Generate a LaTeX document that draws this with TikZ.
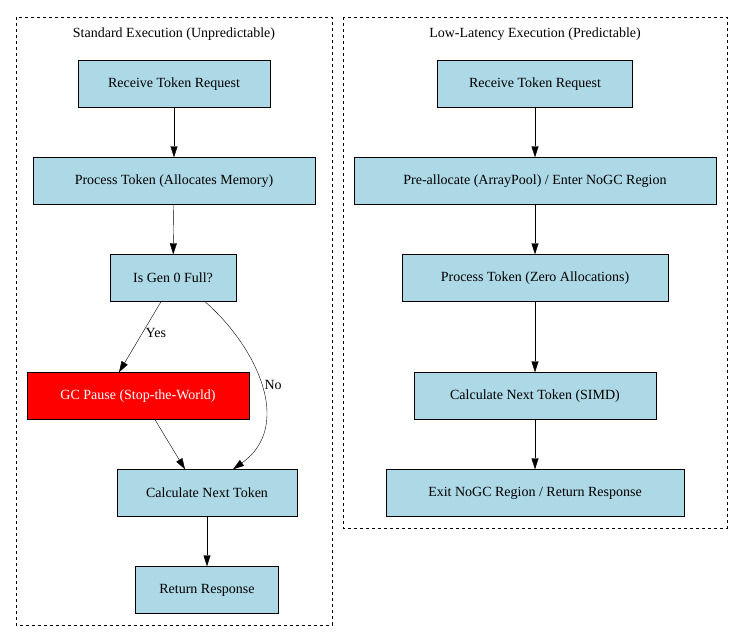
\documentclass[tikz,border=0pt]{standalone}
\usepackage{fontspec}
\setmainfont{Liberation Serif}
\usetikzlibrary{arrows.meta}
\begin{document}
\begin{tikzpicture}[x=1pt,y=-1pt,font=\fontsize{14}{16}\selectfont,
	box/.style={draw, fill=cyan!30!white!80!blue!20, fill=lightblue, minimum height=47pt, inner xsep=8pt},
	cluster/.style={draw, dashed, thick},
	edge/.style={-{Triangle[length=11pt,width=7pt]}}]
		\definecolor{lightblue}{HTML}{ADD8E6}
		\useasboundingbox (0,0) rectangle (743,641);

		\draw[cluster] (16,17) rectangle (332,625);
		\draw[cluster] (343,17) rectangle (727,528);
		\node (titleL) at (174,34) {Standard Execution (Unpredictable)};
		\node (titleR) at (535,34) {Low-Latency Execution (Predictable)};

		\node[box, minimum width=192pt] (L1) at (174,84) {Receive Token Request};
		\node[box, minimum width=282pt] (L2) at (174,181) {Process Token (Allocates Memory)};
		\node[box, minimum width=126pt] (L3) at (173,278) {Is Gen 0 Full?};
		\node[box, minimum width=222pt, fill=red, text=white] (L4) at (138,396) {GC Pause (Stop-the-World)};
		\node[box, minimum width=180pt] (L5) at (207,493) {Calculate Next Token};
		\node[box, minimum width=143pt] (L6) at (207,590) {Return Response};

		\node[box, minimum width=195pt] (R1) at (535,84) {Receive Token Request};
		\node[box, minimum width=362pt] (R2) at (535,181) {Pre-allocate (ArrayPool) / Enter NoGC Region};
		\node[box, minimum width=266pt] (R3) at (535,278) {Process Token (Zero Allocations)};
		\node[box, minimum width=242pt] (R4) at (535,396) {Calculate Next Token (SIMD)};
		\node[box, minimum width=298pt] (R5) at (535,493) {Exit NoGC Region / Return Response};

		\draw[edge] (L1) -- (L2);
		\draw[edge] (L2) -- (L3);
		\draw[edge] ([xshift=-12pt]L3.south) -- ([xshift=-19pt]L4.north) node[right, pos=0.45]{Yes};
		\draw[edge] ([xshift=32pt]L3.south) .. controls (255,345) and (295,425) .. ([xshift=26pt]L5.north) node[pos=0.5, right]{No};
		\draw[edge] ([xshift=17pt]L4.south) -- ([xshift=-22pt]L5.north);
		\draw[edge] (L5) -- (L6);

		\draw[edge] (R1) -- (R2);
		\draw[edge] (R2) -- (R3);
		\draw[edge] (R3) -- (R4);
		\draw[edge] (R4) -- (R5);
	\end{tikzpicture}
\end{document}
